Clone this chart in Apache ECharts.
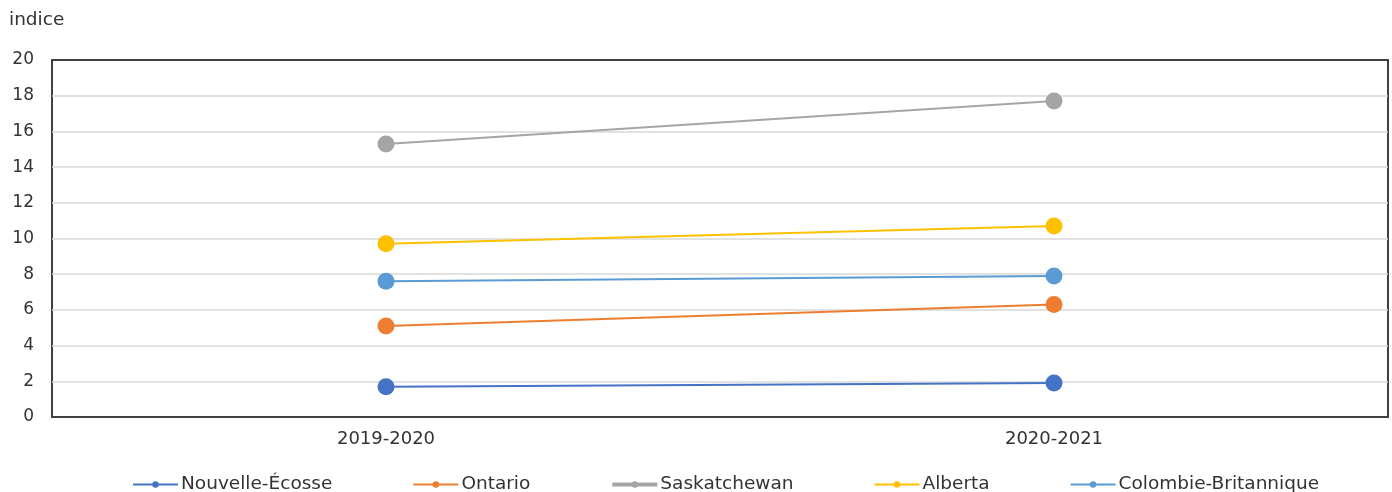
<!DOCTYPE html>
<html>
<head>
<meta charset="utf-8">
<script src="https://cdn.jsdelivr.net/npm/echarts@6/dist/echarts.min.js"></script>
<style>
  html, body { margin: 0; padding: 0; background: #fff; }
  #chart { width: 1392px; height: 492px; }
</style>
</head>
<body>
<div id="chart"></div>
<script>
// Periods on the x axis
const periods = ['2019-2020', '2020-2021'];

// Index values per province
const nouvelleEcosse = [1.7, 1.9];
const ontario = [5.1, 6.3];
const saskatchewan = [15.3, 17.7];
const alberta = [9.7, 10.7];
const colombieBritannique = [7.6, 7.9];

const yTicks = { min: 0, max: 20, interval: 2 };

const font = 'DejaVu Sans';
const textColor = '#333333';

const seriesDefs = [
  { name: 'Nouvelle-Écosse', data: nouvelleEcosse, color: '#4472C4' },
  { name: 'Ontario', data: ontario, color: '#ED7D31' },
  { name: 'Saskatchewan', data: saskatchewan, color: '#A5A5A5' },
  { name: 'Alberta', data: alberta, color: '#FFC000' },
  { name: 'Colombie-Britannique', data: colombieBritannique, color: '#5B9BD5' }
];

const chart = echarts.init(document.getElementById('chart'), null, { renderer: 'canvas' });

chart.setOption({
  animation: false,
  backgroundColor: '#ffffff',
  title: {
    text: 'indice',
    left: 4,
    top: 6,
    textStyle: { fontFamily: font, fontSize: 18.5, fontWeight: 'normal', color: textColor }
  },
  grid: {
    left: 52, right: 4, top: 60, bottom: 75,
    show: true, borderColor: '#404040', borderWidth: 2, backgroundColor: 'transparent'
  },
  legend: {
    top: 475,
    left: 132,
    padding: 0,
    itemWidth: 45,
    itemHeight: 8,
    itemGap: 80,
    textStyle: { fontFamily: font, fontSize: 18.5, color: textColor, padding: [0, 0, 0, -2] },
    data: seriesDefs.map(s => ({
      name: s.name,
      lineStyle: { width: s.name === 'Saskatchewan' ? 4 : 2 }
    }))
  },
  xAxis: {
    type: 'category',
    data: periods,
    boundaryGap: true,
    axisLine: { show: false },
    axisTick: { show: false },
    axisLabel: { fontFamily: font, fontSize: 18, color: textColor, margin: 13 }
  },
  yAxis: {
    type: 'value',
    min: yTicks.min, max: yTicks.max, interval: yTicks.interval,
    axisLine: { show: false },
    axisTick: { show: false },
    axisLabel: { fontFamily: font, fontSize: 17, color: textColor, margin: 18 },
    splitLine: {
      showMinLine: false,
      showMaxLine: false,
      lineStyle: { color: '#d9d9d9', width: 1.5 }
    }
  },
  series: seriesDefs.map(s => ({
    name: s.name,
    type: 'line',
    data: s.data,
    symbol: 'circle',
    symbolSize: 17,
    color: s.color,
    lineStyle: { color: s.color, width: 2 },
    itemStyle: { color: s.color }
  }))
});
</script>
</body>
</html>
